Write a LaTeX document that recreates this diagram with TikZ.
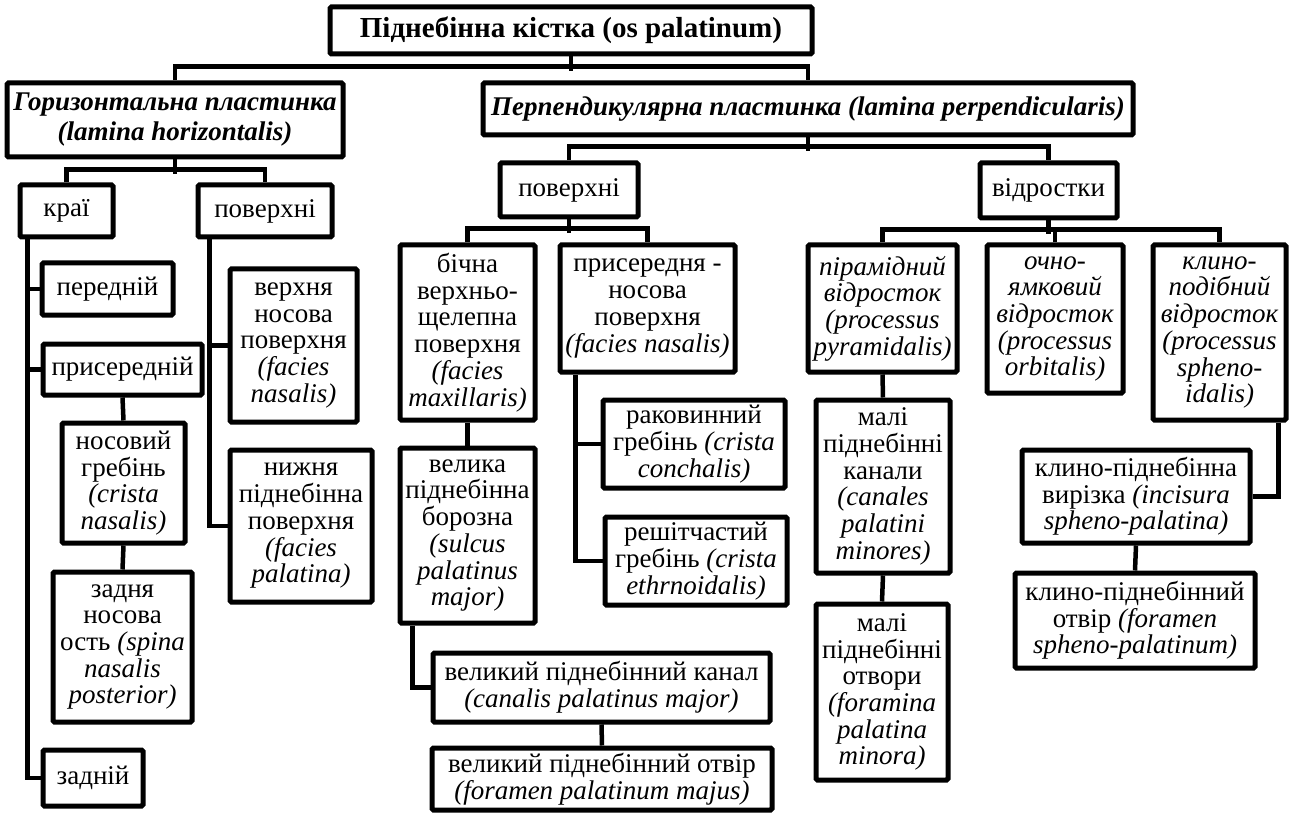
\documentclass[tikz,border=0pt]{standalone}
\usepackage{fontspec}
\setmainfont{Liberation Serif}
% \palbox[style]{name}{left}{top}{right}{bottom}{text}: a framed box given by its edges
\newcommand\palbox[7][]{%
  \node[box, #1, minimum width={#5-#3}, minimum height={#6-#4}] (#2)
    at ({(#3+#5)/2},{-(#4+#6)/2}) {#7};}
\begin{document}
\begin{tikzpicture}[x=1pt,y=1pt,
  box/.style={draw, line width=5pt, rounded corners=1.5pt, align=center,
    inner sep=0pt, font=\fontsize{27}{26.7}\selectfont},
  titlebox/.style={font=\fontsize{29}{30}\selectfont\bfseries},
  head/.style={font=\fontsize{27}{30}\selectfont\bfseries\itshape},
  slanted/.style={font=\fontsize{27}{26.7}\selectfont\itshape},
  link/.style={line width=4.5pt}]
\useasboundingbox (0,0) rectangle (1291,-813);

% top levels
\palbox[titlebox]{title}{330}{7}{812}{54}{Піднебінна кістка (os palatinum)}
\palbox[head]{hor}{7}{83}{343}{157}{Горизонтальна пластинка\\(lamina horizontalis)}
\palbox[head]{perp}{483}{83}{1133}{135}{Перпендикулярна пластинка (lamina perpendicularis)}

% horizontal plate
\palbox{krai}{20}{185}{113}{237}{краї}
\palbox{povL}{198}{185}{332}{237}{поверхні}
\palbox{pered}{42}{263}{173}{315}{передній}
\palbox{prys}{43}{344}{202}{395}{присередній}
\palbox{nosov}{62}{423}{185}{543}{носовий\\гребінь\\\textit{(crista}\\\textit{nasalis)}}
\palbox{zadnya}{53}{572}{192}{722}{задня\\носова\\ость \textit{(spina}\\\textit{nasalis}\\\textit{posterior)}}
\palbox{zadniy}{43}{750}{143}{806}{задній}
\palbox{verkh}{230}{269}{357}{422}{верхня\\носова\\поверхня\\\textit{(facies}\\\textit{nasalis)}}
\palbox{nyzh}{230}{450}{372}{602}{нижня\\піднебінна\\поверхня\\\textit{(facies}\\\textit{palatina)}}

% perpendicular plate: surfaces
\palbox{povM}{500}{163}{638}{217}{поверхні}
\palbox{bichna}{400}{245}{535}{420}{бічна\\верхньо-\\щелепна\\поверхня\\\textit{(facies}\\\textit{maxillaris)}}
\palbox{prysered}{560}{245}{735}{372}{присередня -\\носова\\поверхня\\\textit{(facies nasalis)}}
\palbox{rakov}{603}{400}{785}{488}{раковинний\\гребінь \textit{(crista}\\\textit{conchalis)}}
\palbox{reshit}{605}{517}{787}{605}{решітчастий\\гребінь \textit{(crista}\\\textit{ethrnoidalis)}}
\palbox{velyka}{400}{448}{535}{623}{велика\\піднебінна\\борозна\\\textit{(sulcus}\\\textit{palatinus}\\\textit{major)}}
\palbox{kanal}{433}{653}{770}{722}{великий піднебінний канал\\\textit{(canalis palatinus major)}}
\palbox{otvir}{432}{748}{772}{810}{великий піднебінний отвір\\\textit{(foramen palatinum majus)}}

% perpendicular plate: processes
\palbox{vidr}{980}{163}{1117}{218}{відростки}
\palbox[slanted]{pyram}{808}{245}{957}{372}{пірамідний\\відросток\\(processus\\pyramidalis)}
\palbox[slanted]{ochno}{987}{245}{1123}{393}{очно-\\ямковий\\відросток\\(processus\\orbitalis)}
\palbox[slanted]{klyno}{1153}{245}{1286}{420}{клино-\\подібний\\відросток\\(processus\\spheno-\\idalis)}
\palbox{kanaly}{816}{400}{950}{573}{малі\\піднебінні\\канали\\\textit{(canales}\\\textit{palatini}\\\textit{minores)}}
\palbox{otvory}{816}{604}{948}{780}{малі\\піднебінні\\отвори\\\textit{(foramina}\\\textit{palatina}\\\textit{minora)}}
\palbox{vyrizka}{1022}{450}{1250}{543}{клино-піднебінна\\вирізка \textit{(incisura}\\\textit{spheno-palatina)}}
\palbox{klotvir}{1015}{573}{1255}{668}{клино-піднебінний\\отвір \textit{(foramen}\\\textit{spheno-palatinum)}}

% tree connectors
\draw[link] (title.south) -- ++(0,-15);
\draw[link] (hor.north) -- ++(0,14) -| (perp.north);
\draw[link] (hor.south) -- ++(0,-15);
\draw[link] (krai.north) -- ++(0,13) -| (povL.north);
\draw[link] (perp.south) -- ++(0,-14);
\draw[link] (povM.north) -- ++(0,14) -| (vidr.north);
\draw[link] (povM.south) -- ++(0,-14);
\draw[link] (bichna.north) -- ++(0,14) -| (prysered.north);
\draw[link] (vidr.south) -- ++(0,-14);
\draw[link] (pyram.north) -- ++(0,13) -| (klyno.north);
\draw[link] (ochno.north) -- ++(0,13);

% side trunks
\coordinate (ktrunk) at ([xshift=10pt]krai.south west);
\draw[link] (ktrunk) |- (zadniy.west);
\draw[link] (ktrunk |- pered.west) -- (pered.west);
\draw[link] (ktrunk |- prys.west) -- (prys.west);
\coordinate (ptrunk) at ([xshift=14pt]povL.south west);
\draw[link] (ptrunk) |- (nyzh.west);
\draw[link] (ptrunk |- verkh.west) -- (verkh.west);
\coordinate (strunk) at ([xshift=18pt]prysered.south west);
\draw[link] (strunk) |- (reshit.west);
\draw[link] (strunk |- rakov.west) -- (rakov.west);

% chains
\draw[link] (prys.south) -- (nosov.north);
\draw[link] (nosov.south) -- (zadnya.north);
\draw[link] (bichna.south) -- (velyka.north);
\draw[link] ([xshift=15pt]velyka.south west) |- (kanal.west);
\draw[link] (kanal.south) -- (otvir.north);
\draw[link] (pyram.south) -- (kanaly.north);
\draw[link] (kanaly.south) -- (otvory.north);
\draw[link] ([xshift=-10pt]klyno.south east) |- (vyrizka.east);
\draw[link] (vyrizka.south) -- (klotvir.north);
\end{tikzpicture}
\end{document}
